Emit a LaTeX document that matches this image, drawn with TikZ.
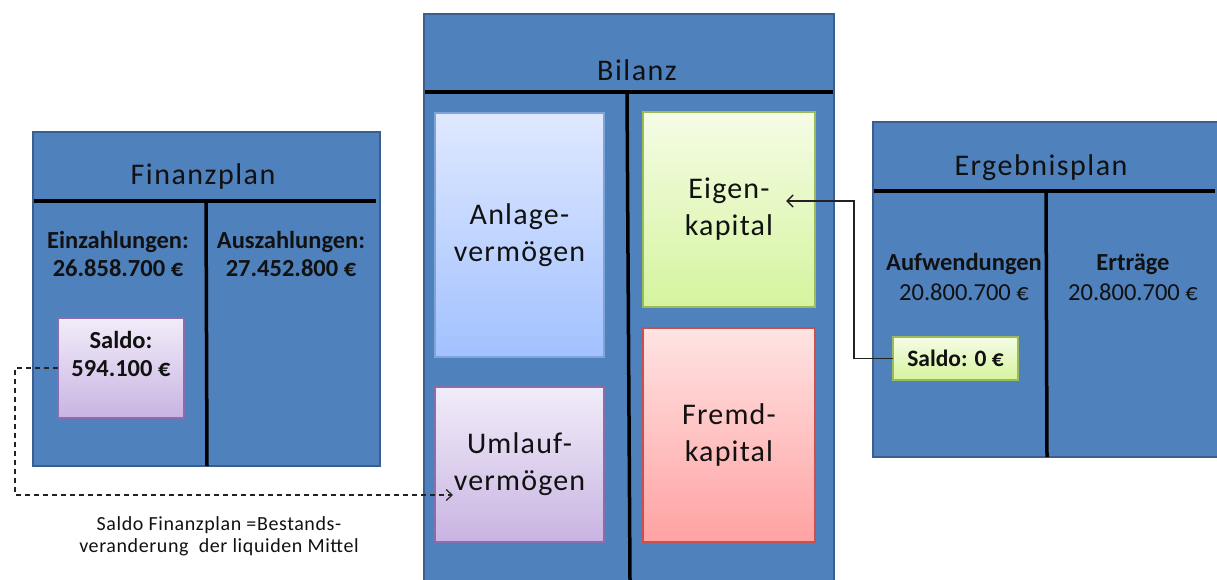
\documentclass[tikz,border=0pt]{standalone}
\usepackage{fontspec}
\setmainfont{Carlito}
\usetikzlibrary{arrows.meta}
\definecolor{panelblue}{HTML}{4F81BD}
\definecolor{panelborder}{HTML}{3A5F8E}
\definecolor{anlTop}{HTML}{DFE9FF}
\definecolor{anlBot}{HTML}{A2C1FF}
\definecolor{anlBorder}{HTML}{7EA4DA}
\definecolor{umlTop}{HTML}{F2ECF9}
\definecolor{umlBot}{HTML}{C8B4E2}
\definecolor{umlBorder}{HTML}{8A6DAE}
\definecolor{eigTop}{HTML}{F5FCE6}
\definecolor{eigBot}{HTML}{D5F49E}
\definecolor{eigBorder}{HTML}{9BBB59}
\definecolor{frmTop}{HTML}{FFE3E3}
\definecolor{frmBot}{HTML}{FFA2A2}
\definecolor{frmBorder}{HTML}{C9504D}
\definecolor{txt}{HTML}{111111}
\definecolor{conn}{HTML}{222222}
\tikzset{
  panel/.style={draw=panelborder, line width=2pt, fill=panelblue, anchor=north west, inner sep=0pt, outer sep=0pt},
  divider/.style={draw=black, line width=3.5pt},
  ibox/.style={anchor=north west, inner sep=0pt, outer sep=0pt, line width=1.5pt, text=txt, align=center,
     font=\fontsize{30}{37}\selectfont\addfontfeature{LetterSpace=4}},
  anlbox/.style={ibox, draw=anlBorder, top color=anlTop, bottom color=anlBot},
  umlbox/.style={ibox, draw=umlBorder, top color=umlTop, bottom color=umlBot},
  eigbox/.style={ibox, draw=eigBorder, top color=eigTop, bottom color=eigBot},
  frmbox/.style={ibox, draw=frmBorder, top color=frmTop, bottom color=frmBot},
  title/.style={text=txt, font=\fontsize{30}{36}\selectfont\addfontfeature{LetterSpace=5}},
  lbl/.style={text=txt, align=center, font=\fontsize{24.5}{28}\selectfont\bfseries},
  lblr/.style={text=txt, align=center, font=\fontsize{24.5}{30}\selectfont},
  note/.style={text=txt, align=center, font=\fontsize{20}{22}\selectfont\addfontfeature{LetterSpace=3}},
  solidconn/.style={draw=conn, line width=1.5pt, -{Straight Barb[length=6pt,width=12pt]}},
  dashconn/.style={draw=conn, line width=1.2pt, dash pattern=on 5pt off 4pt, -{Straight Barb[length=6pt,width=11pt]}}
}
\begin{document}
\begin{tikzpicture}[x=1pt,y=-1pt]
\useasboundingbox (0,0) rectangle (1217,580);

% panels
\node[panel, minimum width=347pt, minimum height=334pt] (fin) at (33,132) {};
\node[panel, minimum width=410pt, minimum height=580pt] (bil) at (424,14) {};
\node[panel, minimum width=352pt, minimum height=335pt] (erg) at (873,122) {};

% dividers
\draw[divider] (34,201) -- (376,201);
\draw[divider] (206,201) -- (207,466);
\draw[divider] (425,92) -- (833,92);
\draw[divider] (627,92) -- (630,580);
\draw[divider] (874,191) -- (1215,191);
\draw[divider] (1046,191) -- (1047,457);

% titles
\node[title] (tfin) at (203,177) {Finanzplan};
\node[title] (tbil) at (637,70) {Bilanz};
\node[title] (terg) at (1041,168) {Ergebnisplan};

% Finanzplan labels
\node[lbl] (einz) at (118,254) {Einzahlungen:\\26.858.700 €};
\node[lbl] (ausz) at (291,254) {Auszahlungen:\\27.452.800 €};

% Ergebnisplan labels
\node[lblr] (aufw) at (964,277) {\textbf{Aufwendungen}\\20.800.700 €};
\node[lblr] (ertr) at (1133,277) {\textbf{Erträge}\\20.800.700 €};

% Bilanz boxes
\node[anlbox, minimum width=169pt, minimum height=244pt] (anl) at (435,113) {Anlage-\\vermögen};
\node[umlbox, minimum width=169pt, minimum height=155pt] (uml) at (435,387) {Umlauf-\\vermögen};
\node[eigbox, minimum width=172pt, minimum height=195pt] (eig) at (643,112) {Eigen-\\kapital};
\node[frmbox, minimum width=172pt, minimum height=214pt] (frm) at (643,328) {Fremd-\\kapital};

% Saldo boxes
\node[umlbox, minimum width=126pt, minimum height=100pt] (s1) at (58,318) {};
\node[lbl] (s1t) at (121,354) {Saldo:\\594.100 €};
\node[eigbox, minimum width=125pt, minimum height=43pt, font=\fontsize{23.5}{26}\selectfont\bfseries] (s2) at (893,337) {Saldo: 0 €};

% connector targets
\coordinate (umlin) at (453,495);
\coordinate (eigin) at (786,201);

% connectors
\draw[dashconn] (s1.west) -- (15,368) -- (15,495) -- (umlin);
\draw[solidconn] (s2.west) -- (854,358.5) -- (854,201) -- (eigin);

% note
\node[note] (nt) at (219,536) {Saldo Finanzplan =Bestands-\\veranderung \ der liquiden Mittel};
\end{tikzpicture}
\end{document}
